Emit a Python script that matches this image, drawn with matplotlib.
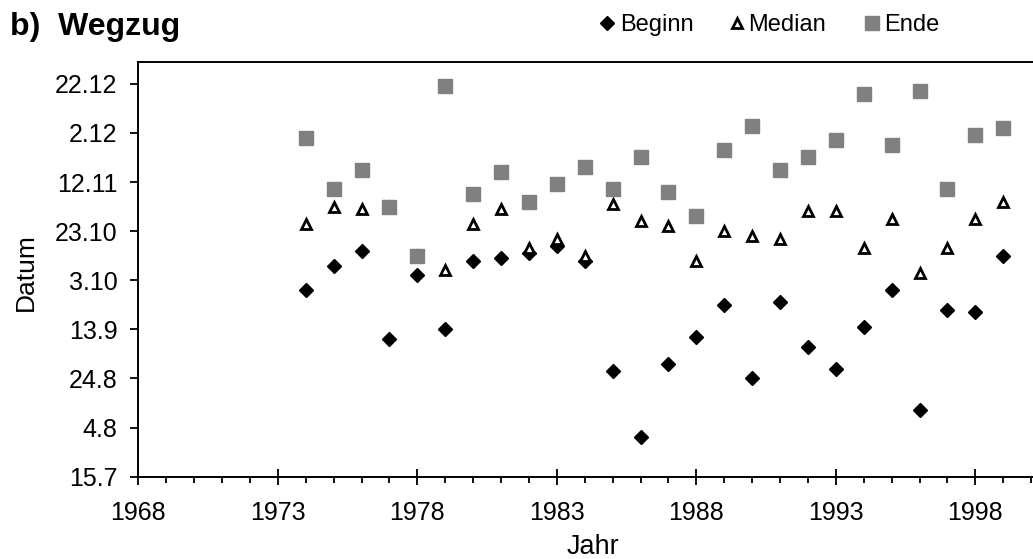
import matplotlib
matplotlib.use("Agg")
import matplotlib.pyplot as plt
from matplotlib.lines import Line2D
from matplotlib.ticker import MultipleLocator

plt.rcParams["font.family"] = ["Liberation Sans", "DejaVu Sans"]

# Daten: Tag im Jahr (1 = 1.1.)
jahre = list(range(1974, 2000))
beginn = [272, 282, 288, 252, 278, 256, 284, 285, 287, 290, 284, 239, 212,
          242, 253, 266, 236, 267, 249, 240, 257, 272, 223, 264, 263, 286]
median = [299, 306, 305, 306, 286, 280, 299, 305, 289, 293, 286, 307, 300,
          298, 284, 296, 294, 293, 304, 304, 289, 301, 279, 289, 301, 308]
ende = [334, 313, 321, 306, 286, 355, 311, 320, 308, 315, 322, 313, 326,
        312, 302, 329, 339, 321, 326, 333, 352, 331, 353, 313, 335, 338]

y_ticks = [196, 216, 236, 256, 276, 296, 316, 336, 356]
y_labels = ["15.7", "4.8", "24.8", "13.9", "3.10", "23.10", "12.11", "2.12", "22.12"]
x_ticks = [1968, 1973, 1978, 1983, 1988, 1993, 1998]

W, H = 1033, 559
fig = plt.figure(figsize=(W / 100, H / 100), dpi=100)
ax = fig.add_axes([138.3 / W, 82.3 / H, 33 * 27.9 / W, 415 / H])

ax.plot(jahre, beginn, linestyle="none", marker="D", ms=7.4, color="black", zorder=3)
ax.plot(jahre, median, linestyle="none", marker="^", ms=7.6, mfc="white",
        mec="black", mew=2.0, zorder=4)
ax.plot(jahre, ende, linestyle="none", marker="s", ms=9.8, color="#808080", zorder=5)

ax.set_xlim(1968, 2001)
ax.set_ylim(196, 365)
ax.set_xticks(x_ticks)
ax.xaxis.set_minor_locator(MultipleLocator(1))
ax.set_yticks(y_ticks)
ax.set_yticklabels(y_labels)

ax.tick_params(axis="x", which="major", direction="inout", length=11.5, width=1.3,
               labelsize=18, pad=12)
ax.tick_params(axis="x", which="minor", direction="out", length=4.3, width=1.3)
ax.tick_params(axis="y", which="major", direction="out", length=6, width=1.3,
               labelsize=18, pad=9)
for sp in ax.spines.values():
    sp.set_linewidth(1.4)

fig.text(25.8 / W, 1 - 272.5 / H, "Datum", rotation=90, fontsize=19,
         ha="center", va="center")
fig.text(593.3 / W, 1 - 554.3 / H, "Jahr", fontsize=19.5, ha="center", va="baseline")
fig.text(10 / W, 1 - 35 / H, "b)  Wegzug", fontsize=23, fontweight="bold",
         ha="left", va="baseline")

# Legende
leg = [("D", dict(ms=7, color="black"), 606.7, 620, "Beginn"),
       ("^", dict(ms=7.5, mfc="white", mec="black", mew=2.0), 737, 748, "Median"),
       ("s", dict(ms=10, color="#808080"), 872, 884, "Ende")]
for mk, kw, mx, tx, label in leg:
    fig.add_artist(Line2D([mx / W], [1 - 23 / H], marker=mk, linestyle="none",
                          transform=fig.transFigure, **kw))
    fig.text(tx / W, 1 - 31 / H, label, fontsize=17, ha="left", va="baseline")

fig.savefig("out.png", dpi=100)
